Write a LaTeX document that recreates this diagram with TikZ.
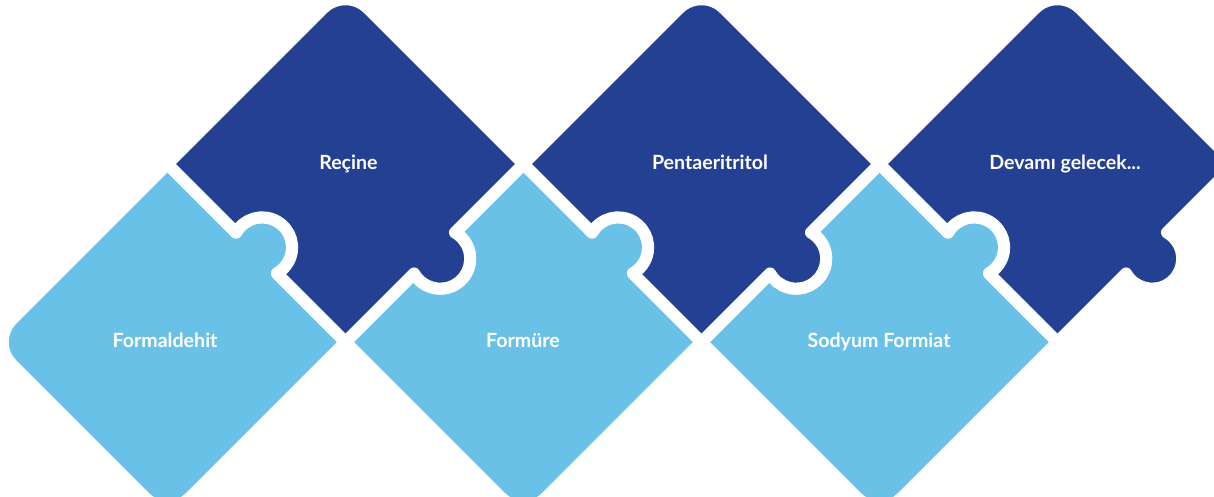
\documentclass[tikz,border=0pt]{standalone}
\usepackage{fontspec}
\setmainfont{Lato}
\definecolor{lightblue}{HTML}{6AC1E8}
\definecolor{darkblue}{HTML}{244092}
\def\A{125.87}
\def\R{30}
\def\D{8}
\def\W{28.91}
\def\T{15.47}
\def\RC{32}
\begin{document}
\begin{tikzpicture}[x=1pt,y=1pt,
  piece/.style={line width=12pt, draw=white, line join=round},
  lbl/.style={text=white, font=\fontsize{19.6}{23}\selectfont\bfseries, anchor=base, inner sep=0pt}]
\useasboundingbox (0,0) rectangle (1214,497);
\begin{scope}
\clip (0,0) rectangle (1214,497);
% light piece 1 (Formaldehit)
\begin{scope}[shift={(167.5,155)}, rotate=45]
\path[piece, fill=lightblue] (-\A,0) -- (-\A,-\A+\RC) arc[start angle=180,end angle=270,radius=\RC] -- (\A,-\A) -- (\A,-\W) arc[start angle=-90-\T,end angle=90+\T,radius=\R] -- (\A,\A) -- (-\A+\RC,\A) arc[start angle=90,end angle=180,radius=\RC] -- cycle;
\end{scope}
% light pieces 2 and 3
\foreach \cx in {523.5,879.5}{
\begin{scope}[shift={(\cx,155)}, rotate=45]
\path[piece, fill=lightblue] (-\A,0) -- (-\A,-\A+\RC) arc[start angle=180,end angle=270,radius=\RC] -- (\A,-\A) -- (\A,-\W) arc[start angle=-90-\T,end angle=90+\T,radius=\R] -- (\A,\A) -- (\W,\A) arc[start angle=\T,end angle=-180-\T,radius=\R] -- (-\A,\A) -- cycle;
\end{scope}
}
% dark pieces
\foreach \cx in {345.5,701.5,1057.5}{
\begin{scope}[shift={(\cx,333)}, rotate=45]
\path[piece, fill=darkblue] (-\A,-\W) -- (-\A,-\A) -- (-\W,-\A) arc[start angle=180-\T,end angle=360+\T,radius=\R] -- (\A,-\A) -- (\A,\A-\RC) arc[start angle=0,end angle=90,radius=\RC] -- (-\A,\A) -- (-\A,\W) arc[start angle=90+\T,end angle=-90-\T,radius=\R] -- cycle;
\end{scope}
}
\end{scope}
\node[lbl] (formaldehit) at (165,149) {Formaldehit};
\node[lbl] (formure) at (523,149) {Formüre};
\node[lbl] (sodyum) at (879,149) {Sodyum Formiat};
\node[lbl] (recine) at (348.5,327) {Reçine};
\node[lbl] (penta) at (710,327) {Pentaeritritol};
\node[lbl] (devami) at (1065,327) {Devamı gelecek...};
\end{tikzpicture}
\end{document}
